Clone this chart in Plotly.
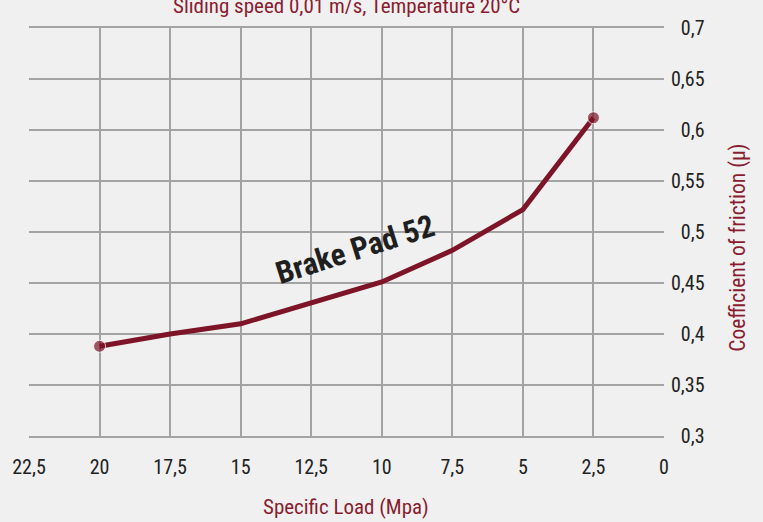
import plotly.graph_objects as go

# Specific load (MPa) and measured coefficient of friction
load = [20, 17.5, 15, 12.5, 10, 7.5, 5, 2.5]
mu = [0.388, 0.400, 0.410, 0.431, 0.451, 0.482, 0.522, 0.612]

x_ticks = [22.5, 20, 17.5, 15, 12.5, 10, 7.5, 5, 2.5, 0]
y_ticks = [0.3, 0.35, 0.4, 0.45, 0.5, 0.55, 0.6, 0.65, 0.7]

def comma(v):
    return f"{v:g}".replace(".", ",")

# right-align the y labels by padding short ones with figure spaces (digit width)
y_width = max(len(comma(v)) for v in y_ticks)
y_labels = ["\u2007" * (y_width - len(comma(v))) + comma(v) for v in y_ticks]

RED = "#7d1428"
TITLE_RED = "#8a1c30"
BG = "#eff0ef"
GRID = "#a3a3a3"
FONT = "Roboto Condensed, Liberation Sans Narrow, sans-serif"

marker_sizes = [12 if i in (0, len(load) - 1) else 0 for i in range(len(load))]

fig = go.Figure()
fig.add_trace(go.Scatter(
    x=load, y=mu, mode="lines+markers",
    line=dict(color=RED, width=5),
    marker=dict(color=RED, size=marker_sizes),
    showlegend=False, hoverinfo="skip",
))

W, H = 763, 522
ML, MR, MT, MB = 27, 99, 28, 86
pw = W - ML - MR
ph = H - MT - MB

fig.update_layout(
    width=W, height=H,
    margin=dict(l=ML, r=MR, t=MT, b=MB),
    paper_bgcolor=BG, plot_bgcolor=BG,
    font=dict(family=FONT, size=20, color="#222222"),
    xaxis=dict(
        range=[22.5, 0],
        tickvals=x_ticks, ticktext=[comma(v) for v in x_ticks],
        showgrid=True, gridcolor=GRID, gridwidth=1.5,
        showline=True, linecolor=GRID, linewidth=1.5, mirror=True,
        zeroline=False, ticks="", ticklabelstandoff=12,
    ),
    yaxis=dict(
        range=[0.3, 0.7], side="right",
        tickvals=y_ticks, ticktext=y_labels,
        showgrid=True, gridcolor=GRID, gridwidth=1.5,
        showline=False, zeroline=False, ticks="", ticklabelstandoff=6,
    ),
    annotations=[
        dict(text="Sliding speed 0,01 m/s, Temperature 20°C",
             x=(345 - ML) / pw, y=(H - MB - 20) / ph, xref="paper", yref="paper",
             xanchor="center", yanchor="bottom", showarrow=False,
             font=dict(family=FONT, size=21, color=TITLE_RED)),
        dict(text="Specific Load (Mpa)",
             x=(345 - ML) / pw, y=-(507 - (H - MB)) / ph, xref="paper", yref="paper",
             xanchor="center", yanchor="middle", showarrow=False,
             font=dict(family=FONT, size=21, color=TITLE_RED)),
        dict(text="Coefficient of friction (μ)", textangle=-90,
             x=(738 - ML) / pw, y=(H - MB - 248) / ph, xref="paper", yref="paper",
             xanchor="center", yanchor="middle", showarrow=False,
             font=dict(family=FONT, size=21.5, color=TITLE_RED)),
        dict(text="<b>Brake Pad 52</b>", textangle=-17.5,
             x=10.95, y=0.483, xref="x", yref="y",
             showarrow=False,
             font=dict(family=FONT, size=31, color="#1f1f1f")),
    ],
)

fig.write_html("out.html")
